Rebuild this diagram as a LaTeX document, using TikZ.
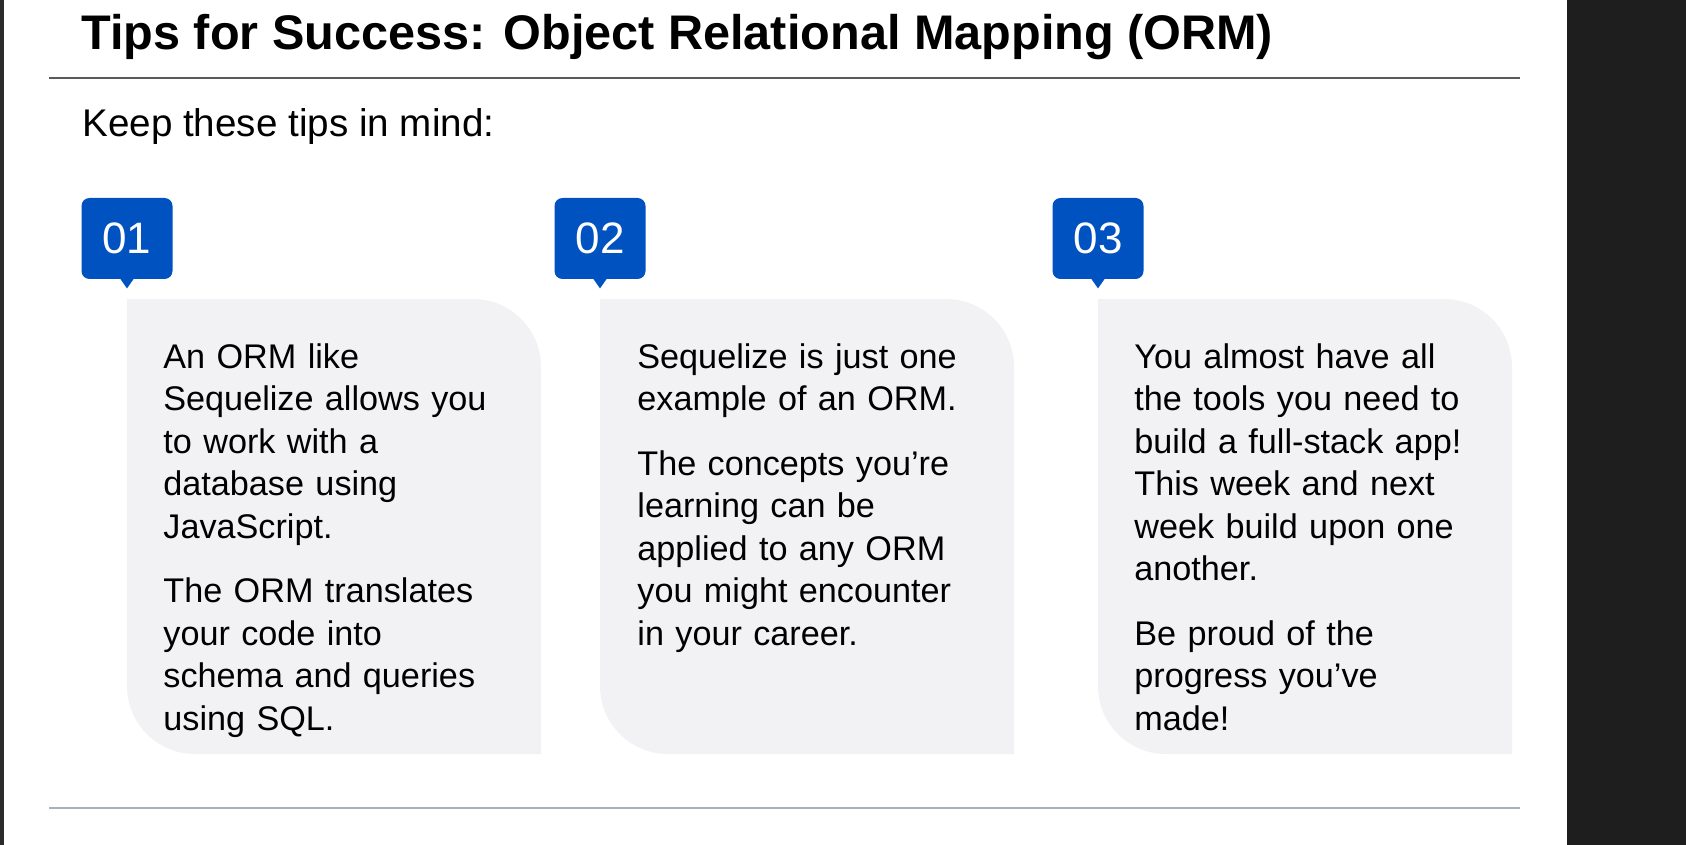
\documentclass[tikz,border=0pt]{standalone}
\usepackage{fontspec}
\setmainfont{Liberation Sans}
\usetikzlibrary{calc}
\definecolor{tagblue}{HTML}{0052C1}
\definecolor{cardgray}{HTML}{F2F1F4}
\definecolor{topline}{HTML}{5A5A5A}
\definecolor{bottomline}{HTML}{A9B0B8}
\definecolor{edgegray}{HTML}{2B2B2B}
\definecolor{panelgray}{HTML}{1E1E1E}
\begin{document}
\begin{tikzpicture}[x=0.5pt,y=-0.5pt]
	\tikzstyle{tag} = [rectangle, fill=tagblue, text=white, rounded corners=4pt, minimum width=45.5pt, minimum height=40.5pt, inner sep=0pt, font=\fontsize{22}{22}\selectfont]
	\tikzstyle{card} = [fill=cardgray]
	\tikzstyle{tiptext} = [anchor=north west, inner sep=0pt, text width=185pt, align=left, font=\fontsize{17.1}{21.25}\selectfont]
	\tikzstyle{rule} = [line width=1pt]

	\useasboundingbox (0,0) rectangle (1686,845);
	\fill[white] (0,0) rectangle (1686,845);
	\fill[edgegray] (0,0) rectangle (4,845);
	\fill[panelgray] (1567,0) rectangle (1686,845);

	\node[anchor=base west, inner sep=0pt, font=\bfseries\fontsize{24.3}{24.3}\selectfont] (titel) at (81,50) {Tips for Success: Object Relational Mapping (ORM)};
	\draw[rule, draw=topline] (49,78) -- (1520,78);
	\node[anchor=base west, inner sep=0pt, font=\fontsize{19.3}{19.3}\selectfont] (intro) at (82,137) {Keep these tips in mind:};

	% cards with their number tags
	\foreach \l/\n in {127/1,600/2,1098/3} {
		\fill[card] (\l,299) -- ({\l+346},299) .. controls ({\l+383.6},299) and ({\l+414},329.4) .. ({\l+414},367) -- ({\l+414},754) -- ({\l+68},754) .. controls ({\l+30.4},754) and (\l,723.6) .. (\l,686) -- cycle;
		\node[tag] (tag\n) at (\l,238.5) {0\n};
		\fill[tagblue] (tag\n.south) ++(-7,-1) -- ++(7,10) -- ++(7,-10) -- cycle;
	}

	\node[tiptext] (tipA) at (163,338.25) {\strut An ORM like\\ Sequelize allows you\\ to work with a\\ database using\\ JavaScript.\\[11pt] The ORM translates\\ your code into\\ schema and queries\\ using SQL.};
	\node[tiptext] (tipB) at (637,338.25) {\strut Sequelize is just one\\ example of an ORM.\\[11pt] The concepts you’re\\ learning can be\\ applied to any ORM\\ you might encounter\\ in your career.};
	\node[tiptext] (tipC) at (1134,338.25) {\strut You almost have all\\ the tools you need to\\ build a full-stack app!\\ This week and next\\ week build upon one\\ another.\\[11pt] Be proud of the\\ progress you’ve\\ made!};

	\draw[rule, draw=bottomline] (49,808) -- (1520,808);
\end{tikzpicture}
\end{document}
